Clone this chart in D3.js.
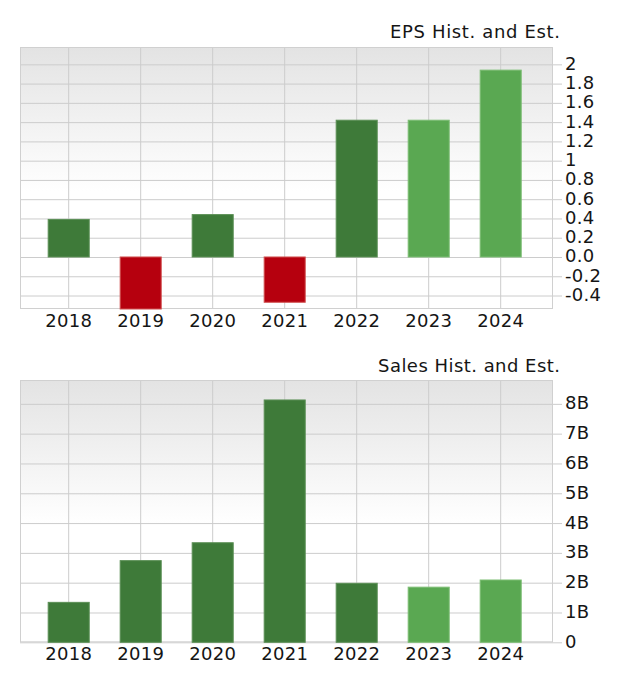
<!DOCTYPE html>
<html>
<head>
<meta charset="utf-8">
<script src="https://cdn.jsdelivr.net/npm/d3@7"></script>
<style>
  html, body { margin: 0; padding: 0; background: #fff; }
  svg { display: block; }
  text { font-family: "DejaVu Sans", sans-serif; fill: #151515; }
</style>
</head>
<body>
<svg id="chart" width="617" height="676"></svg>
<script>
// ---- data ----
const years = ["2018", "2019", "2020", "2021", "2022", "2023", "2024"];
const epsValues = [0.39, -0.54, 0.44, -0.47, 1.42, 1.42, 1.94];
const epsEstimate = [false, false, false, false, false, true, true];
const salesValues = [1.34, 2.74, 3.34, 8.13, 1.98, 1.85, 2.09]; // billions
const salesEstimate = [false, false, false, false, false, true, true];
const epsTicks = [2, 1.8, 1.6, 1.4, 1.2, 1, 0.8, 0.6, 0.4, 0.2, 0, -0.2, -0.4];
const epsTickLabels = ["2", "1.8", "1.6", "1.4", "1.2", "1", "0.8", "0.6", "0.4", "0.2", "0.0", "-0.2", "-0.4"];
const salesTicks = [0, 1, 2, 3, 4, 5, 6, 7, 8];
const salesTickLabels = ["0", "1B", "2B", "3B", "4B", "5B", "6B", "7B", "8B"];
const titles = ["EPS Hist. and Est.", "Sales Hist. and Est."];

const svg = d3.select("#chart");
const defs = svg.append("defs");
const grad = defs.append("linearGradient").attr("id", "bg").attr("x1", 0).attr("y1", 0).attr("x2", 0).attr("y2", 1);
grad.append("stop").attr("offset", "0%").attr("stop-color", "#e3e3e3");
grad.append("stop").attr("offset", "55%").attr("stop-color", "#ffffff");
grad.append("stop").attr("offset", "100%").attr("stop-color", "#ffffff");

const plotL = 20, plotR = 553;

function drawChart(cfg) {
  const g = svg.append("g");
  const x = d3.scaleBand().domain(years).range([32.7, 536.7]).paddingInner(0.43).paddingOuter(0.215);
  const y = d3.scaleLinear().domain(cfg.domain).range([cfg.bottom, cfg.top]);

  // background
  g.append("rect").attr("x", plotL).attr("y", cfg.top).attr("width", plotR - plotL).attr("height", cfg.bottom - cfg.top)
    .attr("fill", "url(#bg)");

  // horizontal grid + tick marks via axis
  const yAxis = d3.axisRight(y).tickValues(cfg.ticks)
    .tickSize(plotR - plotL + 9).tickPadding(3)
    .tickFormat((d, i) => cfg.tickLabels[i]);
  const ya = g.append("g").attr("transform", `translate(${plotL},0)`).call(yAxis);
  ya.select(".domain").remove();
  ya.selectAll(".tick line").attr("stroke", "#cccccc").attr("stroke-width", 1);
  ya.selectAll(".tick text").attr("font-size", 18).attr("fill", "#151515").attr("dy", null)
    .attr("y", 5).attr("letter-spacing", 0.3).attr("font-family", "DejaVu Sans, sans-serif");

  // vertical grid lines at category centers
  g.append("g").selectAll("line").data(years).join("line")
    .attr("x1", d => x(d) + x.bandwidth() / 2).attr("x2", d => x(d) + x.bandwidth() / 2)
    .attr("y1", cfg.top).attr("y2", cfg.bottom)
    .attr("stroke", "#cccccc").attr("stroke-width", 1);

  // plot border
  g.append("rect").attr("x", plotL + 0.5).attr("y", cfg.top + 0.5).attr("width", plotR - plotL - 1).attr("height", cfg.bottom - cfg.top - 1)
    .attr("fill", "none").attr("stroke", "#d0d0d0").attr("stroke-width", 1);

  // bars
  const data = years.map((yr, i) => ({ yr, v: cfg.values[i], est: cfg.est[i] }));
  g.append("g").selectAll("rect").data(data).join("rect")
    .attr("x", d => x(d.yr)).attr("width", x.bandwidth())
    .attr("y", d => y(Math.max(0, d.v))).attr("height", d => Math.abs(y(d.v) - y(0)))
    .attr("fill", d => d.v < 0 ? "#b6000e" : (d.est ? "#5aa852" : "#3e7a39"))
    .attr("stroke", d => d.v < 0 ? "#d05050" : (d.est ? "#7cbd73" : "#5b8f55"))
    .attr("stroke-width", 1);

  // x labels
  g.append("g").selectAll("text").data(years).join("text")
    .attr("x", d => x(d) + x.bandwidth() / 2).attr("y", cfg.bottom + cfg.xLabelOffset)
    .attr("text-anchor", "middle").attr("font-size", 18).attr("letter-spacing", 0.3).text(d => d);

  // title
  g.append("text").attr("x", 560).attr("y", cfg.titleY).attr("text-anchor", "end")
    .attr("font-size", 18).attr("textLength", cfg.titleLen).attr("lengthAdjust", "spacing").text(cfg.title);
}

drawChart({ top: 47, bottom: 309, domain: [-0.54, 2.18], values: epsValues, est: epsEstimate,
  ticks: epsTicks, tickLabels: epsTickLabels, title: titles[0], titleY: 37.7, titleLen: 170, xLabelOffset: 17.5 });
drawChart({ top: 380, bottom: 642.3, domain: [0, 8.8], values: salesValues, est: salesEstimate,
  ticks: salesTicks, tickLabels: salesTickLabels, title: titles[1], titleY: 371.7, titleLen: 182, xLabelOffset: 18 });
</script>
</body>
</html>
